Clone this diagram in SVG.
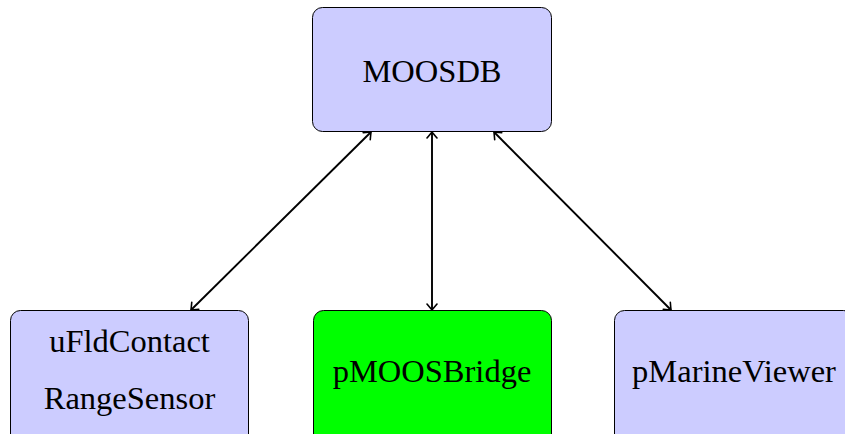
<svg xmlns="http://www.w3.org/2000/svg" width="845" height="434" viewBox="0 0 845 434">
<style>
.box{fill:#ccccff;stroke:#000;stroke-width:1}
.green{fill:#00ff00;stroke:#000;stroke-width:1}
text{font-family:"Liberation Serif","DejaVu Serif",serif;font-size:32.5px;fill:#000;text-anchor:middle}
.conn{stroke:#000;stroke-width:1.9;fill:none;marker-start:url(#ah);marker-end:url(#ah)}
</style>
<defs>
<marker id="ah" viewBox="-8 -6 10 12" markerWidth="10" markerHeight="12" refX="0" refY="0" orient="auto-start-reverse" markerUnits="userSpaceOnUse">
<path d="M-6,-5 Q-1.5,-1.2 0,0 Q-1.5,1.2 -6,5" fill="none" stroke="#000" stroke-width="1.6" stroke-linecap="round"/>
</marker>
</defs>
<g id="connectors">
<line class="conn" x1="371" y1="132" x2="191" y2="310"/>
<line class="conn" x1="432" y1="132" x2="432" y2="310"/>
<line class="conn" x1="494" y1="132" x2="671" y2="310"/>
</g>
<g id="MOOSDB">
<rect class="box" x="312.5" y="7.5" width="239" height="124" rx="10"/>
<text x="432" y="82">MOOSDB</text>
</g>
<g id="uFldContactRangeSensor">
<rect class="box" x="10.5" y="310.5" width="238" height="134" rx="10"/>
<text x="129.5" y="352">uFldContact</text>
<text x="129.5" y="409">RangeSensor</text>
</g>
<g id="pMOOSBridge">
<rect class="green" x="313.5" y="310.5" width="238" height="134" rx="10"/>
<text x="432" y="382">pMOOSBridge</text>
</g>
<g id="pMarineViewer">
<rect class="box" x="614.5" y="310.5" width="239" height="134" rx="10"/>
<text x="734" y="382">pMarineViewer</text>
</g>
</svg>
